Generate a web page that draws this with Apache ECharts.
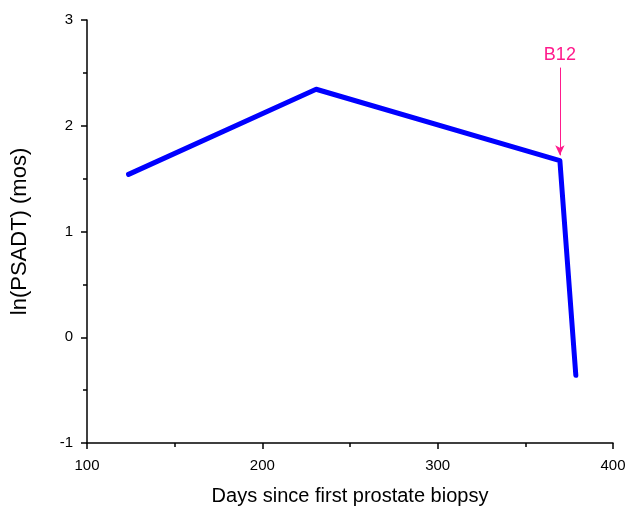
<!DOCTYPE html>
<html>
<head>
<meta charset="utf-8">
<script src="https://cdn.jsdelivr.net/npm/echarts@6/dist/echarts.min.js"></script>
<style>
  html, body { margin: 0; padding: 0; background: #fff; }
  #chart { width: 628px; height: 508px; }
</style>
</head>
<body>
<div id="chart"></div>
<script>
// values
const days = [123.7, 230.7, 369.7, 378.8];
const lnPsadt = [1.54, 2.345, 1.67, -0.36];
const annotText = 'B12';
const annotX = 369.7;
const annotFrom = 2.55;
const annotTo = 1.72;

const chartDom = document.getElementById('chart');
const myChart = echarts.init(chartDom);
const font = 'Liberation Sans, Arial, sans-serif';

const option = {
    animation: false,
    grid: { left: 87, right: 15, top: 20, bottom: 65, containLabel: false, outerBoundsMode: 'none' },
    xAxis: {
        type: 'value',
        min: 100, max: 400, interval: 100,
        name: 'Days since first prostate biopsy',
        nameLocation: 'middle', nameGap: 43,
        nameTextStyle: { fontFamily: font, fontSize: 20, color: '#000' },
        axisLine: { show: true, onZero: false, lineStyle: { color: '#000', width: 1.5 } },
        axisTick: { show: true, inside: false, length: 6, lineStyle: { color: '#000', width: 1.5 } },
        minorTick: { show: true, splitNumber: 2, length: 4, lineStyle: { color: '#000', width: 1.5 } },
        axisLabel: { fontFamily: font, fontSize: 15, color: '#000', margin: 15 },
        splitLine: { show: false }
    },
    yAxis: {
        type: 'value',
        min: -1, max: 3, interval: 1,
        name: 'ln(PSADT) (mos)',
        nameLocation: 'middle', nameGap: 56,
        nameTextStyle: { fontFamily: font, fontSize: 22, color: '#000' },
        axisLine: { show: true, onZero: false, lineStyle: { color: '#000', width: 1.5 } },
        axisTick: { show: true, inside: false, length: 6, lineStyle: { color: '#000', width: 1.5 } },
        minorTick: { show: true, splitNumber: 2, length: 4, lineStyle: { color: '#000', width: 1.5 } },
        axisLabel: { fontFamily: font, fontSize: 15, color: '#000', margin: 14 },
        splitLine: { show: false }
    },
    series: [
        {
            type: 'line',
            data: days.map((d, i) => [d, lnPsadt[i]]),
            showSymbol: false,
            lineStyle: { color: '#0000ff', width: 5, cap: 'round', join: 'round' },
            itemStyle: { color: '#0000ff' },
            markLine: {
                silent: true,
                symbol: ['none', 'arrow'],
                symbolSize: [7, 10],
                lineStyle: { color: '#ff1a8c', width: 1, type: 'solid' },
                label: {
                    show: true, position: 'start', formatter: annotText,
                    fontFamily: font, fontSize: 18, color: '#ff1a8c', distance: 4
                },
                data: [[
                    { coord: [annotX, annotFrom] },
                    { coord: [annotX, annotTo] }
                ]]
            }
        }
    ]
};
option && myChart.setOption(option);
</script>
</body>
</html>
